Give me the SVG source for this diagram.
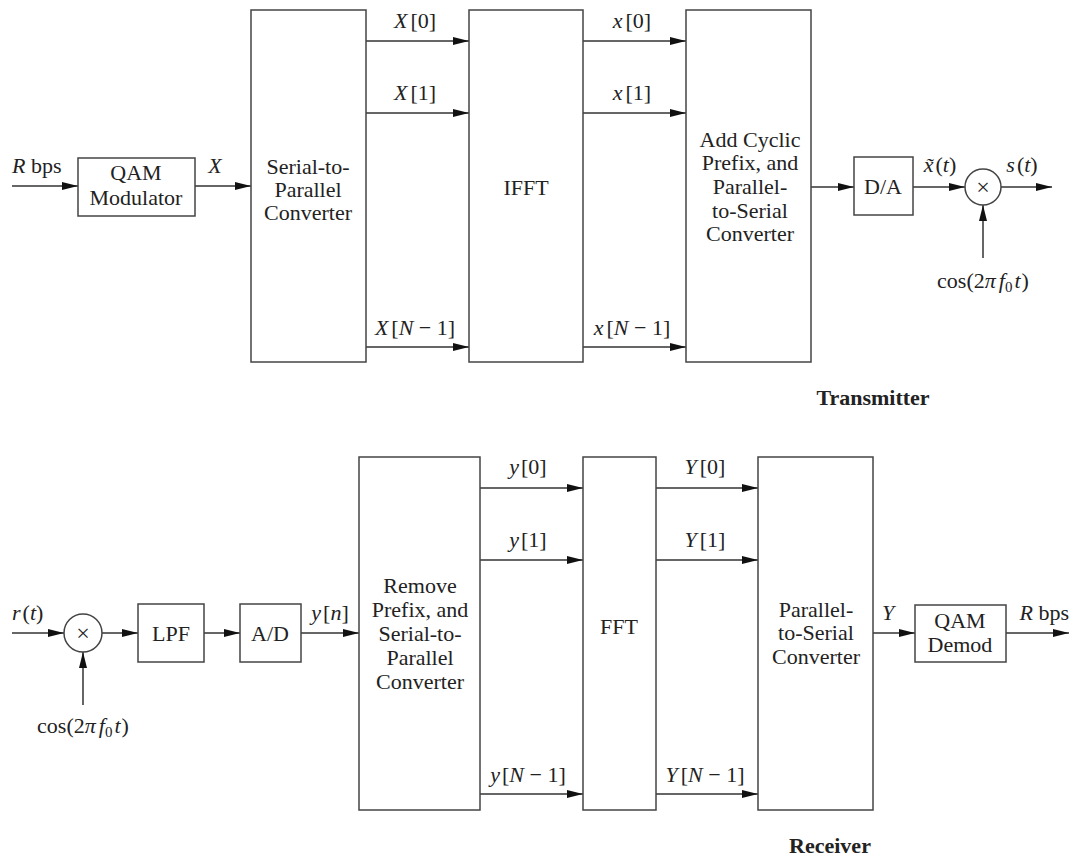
<svg xmlns="http://www.w3.org/2000/svg" width="1072" height="857" viewBox="0 0 1072 857">
<style>
.b{fill:#fff;stroke:#444;stroke-width:1.5}
.a{stroke:#333;stroke-width:1.5;fill:none;marker-end:url(#ah)}
text{font-family:"Liberation Serif","Times New Roman",serif;font-size:22px;fill:#222}
.c{text-anchor:middle}
.i{font-style:italic}
.t{font-weight:bold}
.m{font-size:24px}
</style>
<defs>
<marker id="ah" viewBox="0 0 16 8" refX="16" refY="4" markerWidth="16" markerHeight="8" markerUnits="userSpaceOnUse" orient="auto">
<path d="M0,0 L16,4 L0,8 z" fill="#111"/>
</marker>
</defs>
<rect width="1072" height="857" fill="#fff"/>

<g id="connectors">
<line class="a" x1="12" y1="186" x2="78" y2="186"/>
<line class="a" x1="195" y1="186" x2="251" y2="186"/>
<line class="a" x1="366" y1="41" x2="469" y2="41"/>
<line class="a" x1="366" y1="113" x2="469" y2="113"/>
<line class="a" x1="366" y1="347" x2="469" y2="347"/>
<line class="a" x1="583" y1="41" x2="686" y2="41"/>
<line class="a" x1="583" y1="113" x2="686" y2="113"/>
<line class="a" x1="583" y1="347" x2="686" y2="347"/>
<line class="a" x1="811" y1="187" x2="854" y2="187"/>
<line class="a" x1="913" y1="187" x2="965" y2="187"/>
<line class="a" x1="1001" y1="187" x2="1052" y2="187"/>
<line class="a" x1="983" y1="258" x2="983" y2="205"/>

<line class="a" x1="12" y1="633" x2="64" y2="633"/>
<line class="a" x1="83" y1="705" x2="83" y2="652"/>
<line class="a" x1="102" y1="633" x2="138" y2="633"/>
<line class="a" x1="204" y1="633" x2="240" y2="633"/>
<line class="a" x1="301" y1="633" x2="359" y2="633"/>
<line class="a" x1="480" y1="488" x2="583" y2="488"/>
<line class="a" x1="480" y1="560" x2="583" y2="560"/>
<line class="a" x1="480" y1="794" x2="583" y2="794"/>
<line class="a" x1="656" y1="488" x2="758" y2="488"/>
<line class="a" x1="656" y1="560" x2="758" y2="560"/>
<line class="a" x1="656" y1="794" x2="758" y2="794"/>
<line class="a" x1="873" y1="633" x2="915" y2="633"/>
<line class="a" x1="1006" y1="633" x2="1069" y2="633"/>
</g>

<g id="tx-labels">
<text x="12" y="173"><tspan class="i">R</tspan> bps</text>
<text class="c i" x="215" y="173">X</text>
<text class="c" x="415" y="28"><tspan class="i">X</tspan><tspan dx="3">[0]</tspan></text>
<text class="c" x="415" y="100"><tspan class="i">X</tspan><tspan dx="3">[1]</tspan></text>
<text class="c" x="415" y="335"><tspan class="i">X</tspan><tspan dx="3">[</tspan><tspan class="i">N</tspan> − 1]</text>
<text class="c" x="632" y="28"><tspan class="i">x</tspan><tspan dx="3">[0]</tspan></text>
<text class="c" x="632" y="100"><tspan class="i">x</tspan><tspan dx="3">[1]</tspan></text>
<text class="c" x="632" y="335"><tspan class="i">x</tspan><tspan dx="3">[</tspan><tspan class="i">N</tspan> − 1]</text>
<text class="c" x="940" y="172"><tspan class="i">x̃</tspan><tspan dx="2">(</tspan><tspan class="i">t</tspan>)</text>
<text class="c" x="1022" y="172"><tspan class="i">s</tspan><tspan dx="2">(</tspan><tspan class="i">t</tspan>)</text>
<text class="c" x="983" y="288">cos(2<tspan class="i">π</tspan><tspan class="i" dx="3">f</tspan><tspan font-size="15" dy="4">0</tspan><tspan class="i" dy="-4" dx="2">t</tspan><tspan dx="1">)</tspan></text>
<text class="c t" x="873" y="405">Transmitter</text>
</g>

<g id="qam-mod">
<rect class="b" x="78" y="158" width="117" height="58"/>
<text class="c" x="136" y="180">QAM</text>
<text class="c" x="136" y="205">Modulator</text>
</g>
<g id="s2p">
<rect class="b" x="251" y="10" width="115" height="352"/>
<text class="c" x="308" y="174">Serial-to-</text>
<text class="c" x="308" y="197">Parallel</text>
<text class="c" x="308" y="220">Converter</text>
</g>
<g id="ifft">
<rect class="b" x="469" y="10" width="114" height="352"/>
<text class="c" x="526" y="195">IFFT</text>
</g>
<g id="add-cp">
<rect class="b" x="686" y="10" width="125" height="352"/>
<text class="c" x="750" y="147">Add Cyclic</text>
<text class="c" x="750" y="170">Prefix, and</text>
<text class="c" x="750" y="194">Parallel-</text>
<text class="c" x="750" y="218">to-Serial</text>
<text class="c" x="750" y="241">Converter</text>
</g>
<g id="da">
<rect class="b" x="854" y="157" width="59" height="58"/>
<text class="c" x="883" y="194">D/A</text>
</g>
<g id="mixer-tx">
<circle class="b" cx="983" cy="187" r="18"/>
<text class="c m" x="983" y="195">×</text>
</g>

<g id="rx-labels">
<text x="12" y="620"><tspan class="i">r</tspan><tspan dx="2">(</tspan><tspan class="i">t</tspan>)</text>
<text class="c" x="83" y="733">cos(2<tspan class="i">π</tspan><tspan class="i" dx="3">f</tspan><tspan font-size="15" dy="4">0</tspan><tspan class="i" dy="-4" dx="2">t</tspan><tspan dx="1">)</tspan></text>
<text class="c" x="330" y="620"><tspan class="i">y</tspan><tspan dx="2">[</tspan><tspan class="i">n</tspan>]</text>
<text class="c" x="528" y="474"><tspan class="i">y</tspan><tspan dx="2">[0]</tspan></text>
<text class="c" x="528" y="547"><tspan class="i">y</tspan><tspan dx="2">[1]</tspan></text>
<text class="c" x="528" y="782"><tspan class="i">y</tspan><tspan dx="2">[</tspan><tspan class="i">N</tspan> − 1]</text>
<text class="c" x="705" y="474"><tspan class="i">Y</tspan><tspan dx="3">[0]</tspan></text>
<text class="c" x="705" y="547"><tspan class="i">Y</tspan><tspan dx="3">[1]</tspan></text>
<text class="c" x="705" y="782"><tspan class="i">Y</tspan><tspan dx="3">[</tspan><tspan class="i">N</tspan> − 1]</text>
<text class="c i" x="888" y="620">Y</text>
<text x="1069" y="620" text-anchor="end"><tspan class="i">R</tspan> bps</text>
<text class="c t" x="830" y="853">Receiver</text>
</g>

<g id="mixer-rx">
<circle class="b" cx="83" cy="633" r="19"/>
<text class="c m" x="83" y="641">×</text>
</g>
<g id="lpf">
<rect class="b" x="138" y="604" width="66" height="58"/>
<text class="c" x="171" y="641">LPF</text>
</g>
<g id="ad">
<rect class="b" x="240" y="604" width="61" height="58"/>
<text class="c" x="270" y="641">A/D</text>
</g>
<g id="remove-cp">
<rect class="b" x="359" y="457" width="121" height="353"/>
<text class="c" x="420" y="593">Remove</text>
<text class="c" x="420" y="617">Prefix, and</text>
<text class="c" x="420" y="641">Serial-to-</text>
<text class="c" x="420" y="665">Parallel</text>
<text class="c" x="420" y="689">Converter</text>
</g>
<g id="fft">
<rect class="b" x="583" y="457" width="73" height="353"/>
<text class="c" x="619" y="634">FFT</text>
</g>
<g id="p2s">
<rect class="b" x="758" y="457" width="115" height="353"/>
<text class="c" x="816" y="617">Parallel-</text>
<text class="c" x="816" y="640">to-Serial</text>
<text class="c" x="816" y="664">Converter</text>
</g>
<g id="qam-demod">
<rect class="b" x="915" y="605" width="91" height="57"/>
<text class="c" x="960" y="628">QAM</text>
<text class="c" x="960" y="652">Demod</text>
</g>
</svg>
